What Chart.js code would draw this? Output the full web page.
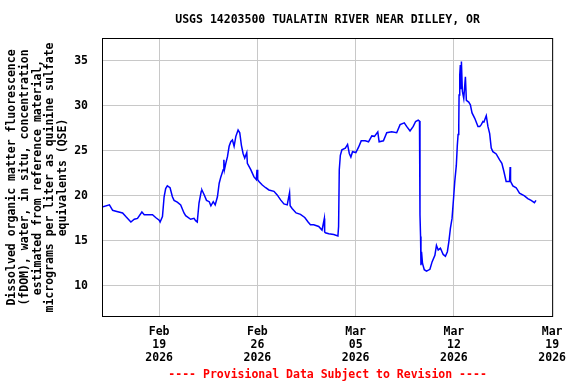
<!DOCTYPE html>
<html>
<head>
<meta charset="utf-8">
<script src="https://cdn.jsdelivr.net/npm/chart.js@4/dist/chart.umd.min.js"></script>
<style>
  html, body { margin: 0; padding: 0; background: #fff; }
  #fdomChart { display: block; }
</style>
</head>
<body>
<canvas id="fdomChart" width="576" height="384"></canvas>
<script>
// Messzeitpunkte (UTC) und fDOM-Werte
const times = [
  '2026-02-15T00:00', '2026-02-15T11:00', '2026-02-15T16:30', '2026-02-15T22:00',
  '2026-02-16T09:30', '2026-02-16T15:00', '2026-02-16T23:40',
  '2026-02-17T05:30', '2026-02-17T11:00', '2026-02-17T18:30', '2026-02-17T22:30',
  '2026-02-18T12:40', '2026-02-18T18:00',
  '2026-02-19T00:00', '2026-02-19T01:40', '2026-02-19T05:40', '2026-02-19T08:30', '2026-02-19T11:10', '2026-02-19T14:00', '2026-02-19T18:40', '2026-02-19T22:40',
  '2026-02-20T01:30', '2026-02-20T07:00', '2026-02-20T12:50', '2026-02-20T18:30', '2026-02-20T21:20',
  '2026-02-21T05:50', '2026-02-21T11:40', '2026-02-21T14:20', '2026-02-21T17:10', '2026-02-21T20:10',
  '2026-02-22T00:00', '2026-02-22T01:10', '2026-02-22T05:10', '2026-02-22T09:00', '2026-02-22T13:40', '2026-02-22T16:30', '2026-02-22T20:30', '2026-02-22T23:50',
  '2026-02-23T03:40', '2026-02-23T06:40', '2026-02-23T09:30', '2026-02-23T13:30', '2026-02-23T14:40', '2026-02-23T15:40', '2026-02-23T18:00', '2026-02-23T20:50', '2026-02-23T23:40',
  '2026-02-24T02:30', '2026-02-24T05:20', '2026-02-24T08:10', '2026-02-24T11:10', '2026-02-24T15:00', '2026-02-24T17:50', '2026-02-24T20:40', '2026-02-24T23:30',
  '2026-02-25T02:20', '2026-02-25T05:50', '2026-02-25T06:50', '2026-02-25T12:40', '2026-02-25T18:10', '2026-02-25T22:10', '2026-02-25T23:20',
  '2026-02-26T00:30', '2026-02-26T02:40', '2026-02-26T08:20', '2026-02-26T14:10', '2026-02-26T19:40',
  '2026-02-27T04:20', '2026-02-27T09:50', '2026-02-27T15:40', '2026-02-27T21:20',
  '2026-02-28T03:00', '2026-02-28T07:00', '2026-02-28T08:00', '2026-02-28T11:20', '2026-02-28T18:10',
  '2026-03-01T01:40', '2026-03-01T09:00', '2026-03-01T14:40', '2026-03-01T18:40',
  '2026-03-02T00:20', '2026-03-02T08:50', '2026-03-02T14:30', '2026-03-02T18:30', '2026-03-02T19:00', '2026-03-02T20:20',
  '2026-03-03T02:00', '2026-03-03T10:30', '2026-03-03T17:40', '2026-03-03T18:50', '2026-03-03T20:00', '2026-03-03T21:50',
  '2026-03-04T00:30', '2026-03-04T06:20', '2026-03-04T10:10', '2026-03-04T13:10', '2026-03-04T15:50', '2026-03-04T18:40',
  '2026-03-05T00:20', '2026-03-05T05:00', '2026-03-05T09:30', '2026-03-05T16:20', '2026-03-05T22:00',
  '2026-03-06T03:40', '2026-03-06T08:10', '2026-03-06T13:50', '2026-03-06T16:10', '2026-03-06T23:30',
  '2026-03-07T05:10', '2026-03-07T13:40', '2026-03-07T22:10',
  '2026-03-08T04:00', '2026-03-08T11:10', '2026-03-08T15:10', '2026-03-08T21:00',
  '2026-03-09T02:30', '2026-03-09T06:30', '2026-03-09T11:00', '2026-03-09T13:10', '2026-03-09T14:00', '2026-03-09T15:00', '2026-03-09T15:40', '2026-03-09T16:40', '2026-03-09T18:20', '2026-03-09T21:20',
  '2026-03-10T01:10', '2026-03-10T07:00', '2026-03-10T10:50', '2026-03-10T15:30', '2026-03-10T18:10', '2026-03-10T21:10',
  '2026-03-11T01:00', '2026-03-11T05:40', '2026-03-11T09:30', '2026-03-11T12:50', '2026-03-11T15:20', '2026-03-11T18:00', '2026-03-11T20:50', '2026-03-11T23:50',
  '2026-03-12T01:30', '2026-03-12T04:10', '2026-03-12T05:50', '2026-03-12T07:10', '2026-03-12T08:20', '2026-03-12T08:50', '2026-03-12T10:00', '2026-03-12T11:00', '2026-03-12T12:10', '2026-03-12T12:50', '2026-03-12T14:30', '2026-03-12T16:50', '2026-03-12T19:40', '2026-03-12T21:20',
  '2026-03-13T01:20', '2026-03-13T04:10', '2026-03-13T07:00', '2026-03-13T11:40', '2026-03-13T17:10', '2026-03-13T20:10', '2026-03-13T22:50',
  '2026-03-14T01:40', '2026-03-14T03:20', '2026-03-14T07:20', '2026-03-14T10:10', '2026-03-14T13:10', '2026-03-14T15:50', '2026-03-14T18:40',
  '2026-03-15T00:20', '2026-03-15T06:10', '2026-03-15T10:00', '2026-03-15T13:30', '2026-03-15T17:20', '2026-03-15T23:10',
  '2026-03-16T00:10', '2026-03-16T00:50', '2026-03-16T04:50', '2026-03-16T10:30', '2026-03-16T16:10',
  '2026-03-17T00:40', '2026-03-17T06:20', '2026-03-17T12:00', '2026-03-17T17:40', '2026-03-17T20:20'
];

const fdomValues = [
  18.8, 19.0, 18.4, 18.3,
  18.1, 17.7, 17.1,
  17.4, 17.5, 18.2, 17.9,
  17.9, 17.6,
  17.3, 17.1, 17.7, 19.9, 20.8, 21.1, 20.9, 19.9,
  19.5, 19.3, 19.0, 18.1, 17.8,
  17.4, 17.5, 17.25, 17.1, 19.2,
  20.5, 20.65, 20.1, 19.5, 19.35, 18.9, 19.35, 19.0,
  19.9, 21.4, 22.1, 22.9, 24.0, 22.9, 23.6, 24.35, 25.5,
  26.0, 26.2, 25.5, 26.6, 27.3, 27.0, 25.6, 24.7,
  24.2, 24.8, 23.6, 22.9, 22.1, 21.8, 22.9,
  21.8, 21.6, 21.2, 20.9, 20.65,
  20.5, 20.1, 19.55, 19.1,
  19.0, 20.35, 18.9, 18.6, 18.1,
  17.95, 17.6, 17.1, 16.8,
  16.8, 16.6, 16.2, 17.5, 16.0, 15.9,
  15.8, 15.7, 15.55, 16.6, 22.9, 24.5,
  25.1, 25.3, 25.7, 24.7, 24.3, 24.9,
  24.8, 25.4, 26.1, 26.1, 26.0,
  26.65, 26.6, 27.1, 26.0, 26.1,
  27.0, 27.1, 27.0,
  27.9, 28.1, 27.7, 27.2,
  27.7, 28.25, 28.4, 28.3, 17.9, 15.5, 12.3, 13.8, 12.5, 11.8,
  11.65, 11.85, 12.7, 13.4, 14.5, 14.0,
  14.2, 13.5, 13.3, 13.8, 14.9, 16.4, 17.5, 20.1,
  21.6, 23.4, 25.6, 26.8, 27.9, 31.2, 33.4, 34.5, 31.9, 34.9, 31.6, 30.8, 33.2, 30.6,
  30.4, 30.1, 29.2, 28.6, 27.7, 27.7, 27.9,
  28.25, 28.2, 28.9, 27.7, 26.9, 25.3, 24.9,
  24.65, 24.0, 23.6, 22.7, 21.6, 21.6,
  23.2, 21.6, 21.1, 20.9, 20.3,
  20.0, 19.7, 19.5, 19.25, 19.5
];

const tickDates = ['2026-02-19', '2026-02-26', '2026-03-05', '2026-03-12', '2026-03-19'];
const yTicks = [10, 15, 20, 25, 30, 35];
const axisStart = '2026-02-15';
const axisEnd = '2026-03-19';
const yMin = 6.67;
const yMax = 37.4;

const chartTitle = 'USGS 14203500 TUALATIN RIVER NEAR DILLEY, OR';
const footerText = '---- Provisional Data Subject to Revision ----';
const yAxisTitle = [
  'Dissolved organic matter fluorescence',
  '(fDOM), water, in situ, concentration',
  'estimated from reference material,',
  'micrograms per liter as quinine sulfate',
  'equivalents (QSE)'
];
const monthNames = ['Jan', 'Feb', 'Mar', 'Apr', 'May', 'Jun', 'Jul', 'Aug', 'Sep', 'Oct', 'Nov', 'Dec'];

const toMs = s => Date.parse(s.length === 10 ? s + 'T00:00:00Z' : s + ':00Z');
const fontFamily = '"DejaVu Sans Mono", "Liberation Mono", monospace';
const baseFont = { family: fontFamily, size: 11.5, weight: 'bold', lineHeight: 1.13 };

const points = times.map((t, i) => ({ x: toMs(t), y: fdomValues[i] }));

// Rahmen, Titel und Fußzeile um die Plotfläche
const framePlugin = {
  id: 'usgsFrame',
  afterDraw(chart) {
    const { ctx, chartArea: a } = chart;
    const cx = (a.left + a.right) / 2;
    ctx.save();
    ctx.strokeStyle = '#000';
    ctx.lineWidth = 1;
    ctx.strokeRect(a.left - 0.5, a.top - 0.5, a.right - a.left + 1, a.bottom - a.top + 1);
    ctx.font = `bold 11.5px ${fontFamily}`;
    ctx.textAlign = 'center';
    ctx.textBaseline = 'middle';
    ctx.fillStyle = '#000';
    ctx.fillText(chartTitle, cx, 20);
    ctx.fillStyle = '#ff0000';
    ctx.fillText(footerText, cx, 375);
    ctx.restore();
  }
};

new Chart(document.getElementById('fdomChart'), {
  type: 'line',
  data: {
    datasets: [{
      label: 'fDOM',
      data: points,
      borderColor: '#0000ff',
      borderWidth: 1.5,
      pointRadius: 0,
      tension: 0,
      fill: false
    }]
  },
  options: {
    responsive: false,
    animation: false,
    events: [],
    layout: { padding: { top: 39, right: 22, bottom: 0, left: 0 } },
    plugins: {
      legend: { display: false },
      title: { display: false },
      tooltip: { enabled: false }
    },
    scales: {
      x: {
        type: 'linear',
        min: toMs(axisStart),
        max: toMs(axisEnd),
        afterBuildTicks: s => { s.ticks = tickDates.map(d => ({ value: toMs(d) })); },
        afterFit: s => { s.height = 68; },
        grid: { color: '#c8c8c8', lineWidth: 1, drawTicks: false },
        border: { display: false },
        ticks: {
          autoSkip: false,
          maxRotation: 0,
          padding: 10,
          color: '#000',
          font: baseFont,
          callback: v => {
            const d = new Date(v);
            return [monthNames[d.getUTCMonth()], String(d.getUTCDate()).padStart(2, '0'), String(d.getUTCFullYear())];
          }
        }
      },
      y: {
        min: yMin,
        max: yMax,
        afterBuildTicks: s => { s.ticks = yTicks.map(v => ({ value: v })); },
        afterFit: s => { s.width = 103; },
        grid: { color: '#c8c8c8', lineWidth: 1, drawTicks: false },
        border: { display: false },
        ticks: { padding: 15, color: '#000', font: baseFont },
        title: {
          display: true,
          text: yAxisTitle,
          color: '#000',
          font: { family: fontFamily, size: 11.5, weight: 'bold', lineHeight: 1.1 },
          padding: { top: 6, bottom: 0 }
        }
      }
    }
  },
  plugins: [framePlugin]
});
</script>
</body>
</html>
